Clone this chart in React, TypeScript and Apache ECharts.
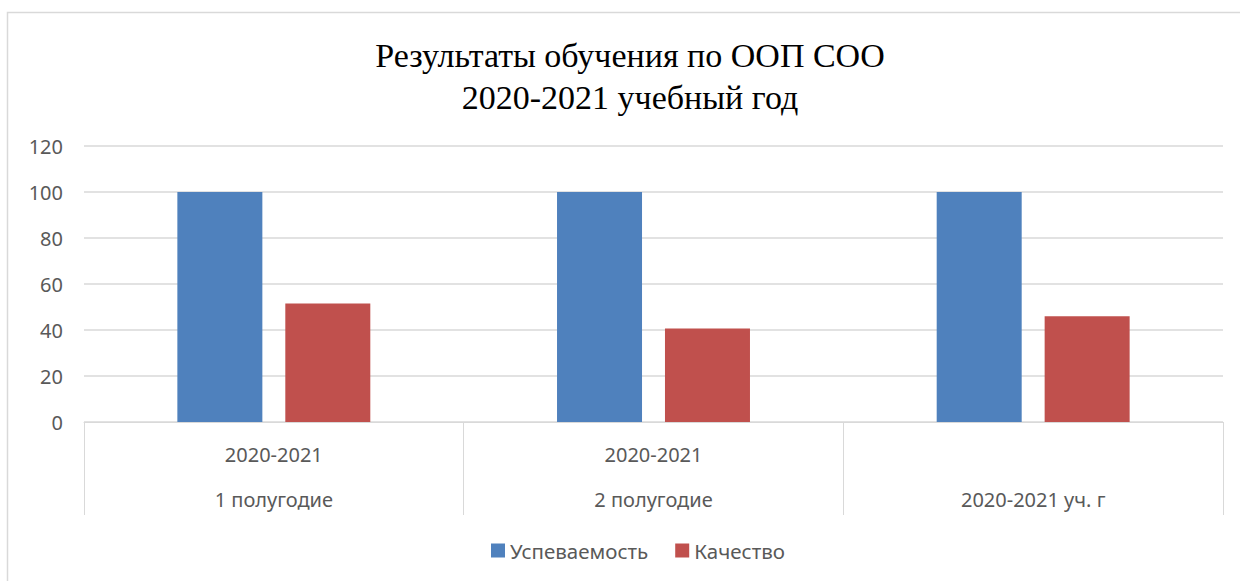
import React, { useEffect, useRef } from "react";
import * as echarts from "echarts";

const titleLines = ["Результаты обучения по ООП СОО", "2020-2021 учебный год"];
const levelTop = ["2020-2021", "2020-2021", ""];
const levelBottom = ["1 полугодие", "2 полугодие", "2020-2021 уч. г"];
const seriesNames = ["Успеваемость", "Качество"];
const uspevaemost = [100, 100, 100];
const kachestvo = [51.5, 40.6, 46];
const yTicks = { min: 0, max: 120, interval: 20 };

const FONT = "'Noto Sans', sans-serif";

export default function App() {
  const ref = useRef<HTMLDivElement>(null);
  useEffect(() => {
    if (!ref.current) return;
    const chart = echarts.init(ref.current, undefined, { renderer: "svg" });
    chart.setOption({
      animation: false,
      backgroundColor: "#ffffff",
      graphic: [
        {
          type: "rect",
          shape: { x: 7.5, y: 12.5, width: 1300, height: 700 },
          style: { fill: "none", stroke: "#d9d9d9", lineWidth: 1.5 },
          silent: true,
        },
        {
          type: "text",
          x: 630,
          y: 55,
          style: {
            text: titleLines[0],
            font: "34px 'Liberation Serif', serif",
            fill: "#000000",
            align: "center",
            verticalAlign: "middle",
          },
        },
        {
          type: "text",
          x: 630,
          y: 97,
          style: {
            text: titleLines[1],
            font: "34px 'Liberation Serif', serif",
            fill: "#000000",
            align: "center",
            verticalAlign: "middle",
          },
        },
      ],
      grid: { left: 84, right: 17, top: 146, bottom: 159, containLabel: false },
      legend: {
        data: seriesNames,
        left: 486,
        top: 535,
        itemWidth: 14,
        itemHeight: 14,
        itemGap: 27,
        icon: "rect",
        textStyle: { fontFamily: FONT, fontSize: 20.5, color: "#595959" },
      },
      xAxis: {
        type: "category",
        data: levelBottom,
        axisLine: { show: true, lineStyle: { color: "#d9d9d9", width: 1 } },
        axisTick: {
          show: true,
          interval: 0,
          length: 93,
          lineStyle: { color: "#d9d9d9", width: 1 },
        },
        axisLabel: {
          interval: 0,
          margin: 10,
          fontFamily: FONT,
          fontSize: 20,
          color: "#595959",
          lineHeight: 45,
          formatter: (_v: string, i: number) => levelTop[i] + "\n" + levelBottom[i],
        },
      },
      yAxis: {
        type: "value",
        min: yTicks.min,
        max: yTicks.max,
        interval: yTicks.interval,
        axisLine: { show: false },
        axisTick: { show: false },
        axisLabel: { margin: 21, fontFamily: FONT, fontSize: 20, color: "#595959" },
        splitLine: { lineStyle: { color: "#d9d9d9", width: 1.5 } },
      },
      series: [
        {
          name: seriesNames[0],
          type: "bar",
          data: uspevaemost,
          barWidth: 85,
          barGap: "27%",
          itemStyle: { color: "#4f81bd" },
        },
        {
          name: seriesNames[1],
          type: "bar",
          data: kachestvo,
          barWidth: 85,
          barGap: "27%",
          itemStyle: { color: "#c0504d" },
        },
      ],
    });
    return () => chart.dispose();
  }, []);
  return (
    <div
      ref={ref}
      style={{ position: "fixed", left: 0, top: 0, width: 1240, height: 581 }}
    />
  );
}
